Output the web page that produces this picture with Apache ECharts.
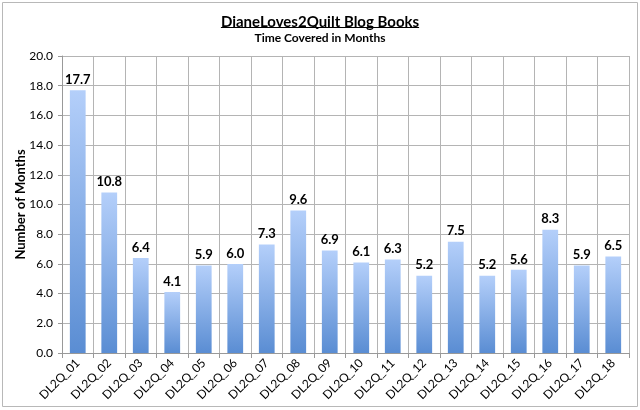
<!DOCTYPE html>
<html>
<head>
<meta charset="utf-8">
<script src="https://cdn.jsdelivr.net/npm/echarts@6/dist/echarts.min.js"></script>
<style>html,body{margin:0;padding:0;background:#fff}#c{width:640px;height:410px}</style>
</head>
<body>
<div id="c"></div>
<script>
const categories = ['DL2Q_01','DL2Q_02','DL2Q_03','DL2Q_04','DL2Q_05','DL2Q_06','DL2Q_07','DL2Q_08','DL2Q_09','DL2Q_10','DL2Q_11','DL2Q_12','DL2Q_13','DL2Q_14','DL2Q_15','DL2Q_16','DL2Q_17','DL2Q_18'];
const months = [17.7, 10.8, 6.4, 4.1, 5.9, 6.0, 7.3, 9.6, 6.9, 6.1, 6.3, 5.2, 7.5, 5.2, 5.6, 8.3, 5.9, 6.5];
const titleText = 'DianeLoves2Quilt Blog Books';
const subtitleText = 'Time Covered in Months';
const yAxisName = 'Number of Months';

const FONT = 'Lato';
const TITLE_SIZE = 15;
const ctx = document.createElement('canvas').getContext('2d');
ctx.font = 'bold ' + TITLE_SIZE + 'px ' + FONT;
const titleW = ctx.measureText(titleText).width;

const chart = echarts.init(document.getElementById('c'), null, {renderer: 'canvas'});
chart.setOption({
  animation: false,
  backgroundColor: '#fff',
  textStyle: {fontFamily: FONT},
  title: {
    text: titleText,
    subtext: subtitleText,
    left: 'center',
    top: 10,
    itemGap: 2,
    textStyle: {fontFamily: FONT, fontSize: TITLE_SIZE, fontWeight: 'bold', color: '#000'},
    subtextStyle: {fontFamily: FONT, fontSize: 12, fontWeight: 'bold', color: '#000'}
  },
  graphic: [
    {type: 'rect', shape: {x: 2.5, y: 2.5, width: 635, height: 404}, style: {fill: 'none', stroke: '#b8b8b8', lineWidth: 1}, silent: true},
    {type: 'line', shape: {x1: 320 - titleW / 2, y1: 27.5, x2: 320 + titleW / 2, y2: 27.5}, style: {stroke: '#000', lineWidth: 1}, silent: true}
  ],
  grid: {left: 62, right: 11, top: 56, bottom: 57},
  xAxis: {
    type: 'category',
    data: categories,
    axisLine: {lineStyle: {color: '#999'}},
    axisTick: {show: true, length: 5, lineStyle: {color: '#999'}},
    splitLine: {show: true, lineStyle: {color: '#b4b4b4'}},
    axisLabel: {rotate: 45, color: '#000', fontSize: 12, fontFamily: FONT, margin: 8, interval: 0}
  },
  yAxis: {
    type: 'value',
    min: 0, max: 20, interval: 2,
    name: yAxisName,
    nameLocation: 'middle',
    nameGap: 35,
    nameMoveOverlap: false,
    nameTextStyle: {fontFamily: FONT, fontSize: 13, fontWeight: 'bold', color: '#000'},
    axisLine: {show: true, lineStyle: {color: '#999'}},
    axisTick: {show: true, length: 4, lineStyle: {color: '#999'}},
    splitLine: {show: true, lineStyle: {color: '#b4b4b4'}},
    axisLabel: {color: '#000', fontSize: 12, fontFamily: FONT, margin: 9, formatter: v => v.toFixed(1)}
  },
  series: [{
    type: 'bar',
    data: months,
    barWidth: '50%',
    itemStyle: {
      color: new echarts.graphic.LinearGradient(0, 0, 0, 1, [
        {offset: 0, color: '#b4cffa'},
        {offset: 1, color: '#5a8dd3'}
      ])
    },
    label: {
      show: true, position: 'top', distance: 4,
      fontFamily: FONT, fontSize: 13, fontWeight: 'bold', color: '#000',
      formatter: p => p.value.toFixed(1)
    }
  }]
});
</script>
</body>
</html>
